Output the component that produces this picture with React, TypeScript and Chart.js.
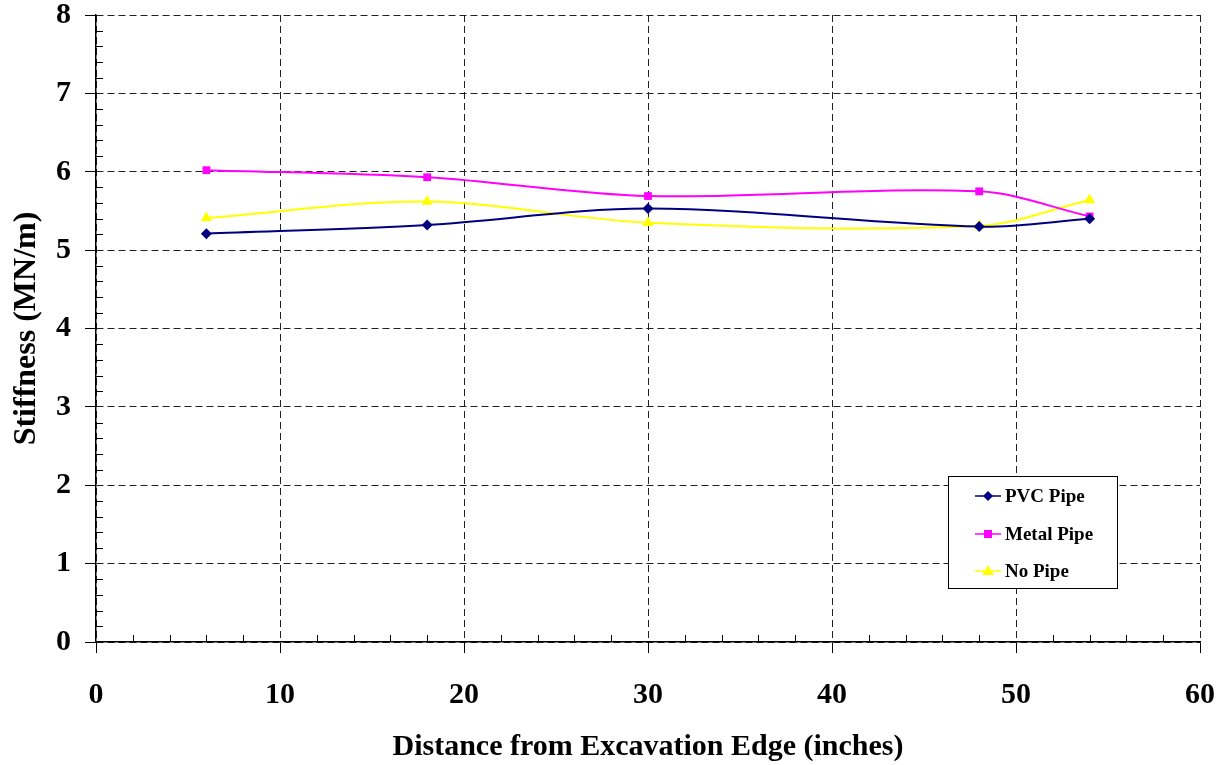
import React, { useEffect, useRef } from "react";
import { Chart, registerables } from "chart.js";

Chart.register(...registerables);

const distances = [6, 18, 30, 48, 54];
const pvcPipe = [5.21, 5.32, 5.53, 5.3, 5.4];
const metalPipe = [6.02, 5.93, 5.69, 5.75, 5.43];
const noPipe = [5.41, 5.62, 5.35, 5.31, 5.64];
const seriesNames = ["PVC Pipe", "Metal Pipe", "No Pipe"];
const xTitle = "Distance from Excavation Edge (inches)";
const yTitle = "Stiffness (MN/m)";

const FONT = "'Liberation Serif', 'Times New Roman', serif";

const colors = ["#000080", "#FF00FF", "#FFFF00"];
const markers = ["rectRot", "rect", "triangle"];
const radii = [5.5, 5.5, 6.5];

export default function App() {
  const ref = useRef<HTMLCanvasElement>(null);
  useEffect(() => {
    document.body.style.margin = "0";
    const canvas = ref.current!;
    const series = [pvcPipe, metalPipe, noPipe];

    const extras = {
      id: "extras",
      afterDraw(chart: any) {
        const ctx = chart.ctx;
        const xs = chart.scales.x;
        const ys = chart.scales.y;
        const area = chart.chartArea;
        ctx.save();
        ctx.strokeStyle = "#000";
        ctx.lineWidth = 1;
        ctx.beginPath();
        for (let v = 2; v < 60; v += 2) {
          if (v % 10 === 0) continue;
          const px = Math.round(xs.getPixelForValue(v)) + 0.5;
          ctx.moveTo(px, area.bottom);
          ctx.lineTo(px, area.bottom - 7);
        }
        for (let i = 1; i < 40; i++) {
          if (i % 5 === 0) continue;
          const py = Math.round(ys.getPixelForValue(i * 0.2)) + 0.5;
          ctx.moveTo(area.left, py);
          ctx.lineTo(area.left + 7, py);
        }
        ctx.stroke();

        // legend
        const lx = 948, ly = 476, lw = 169, lh = 112;
        ctx.fillStyle = "#fff";
        ctx.fillRect(lx, ly, lw, lh);
        ctx.strokeStyle = "#000";
        ctx.strokeRect(lx + 0.5, ly + 0.5, lw, lh);
        const rows = [496, 534, 571];
        ctx.font = `bold 19px ${FONT}`;
        ctx.textBaseline = "middle";
        for (let i = 0; i < 3; i++) {
          const y = rows[i];
          ctx.strokeStyle = colors[i];
          ctx.lineWidth = 1.5;
          ctx.beginPath();
          ctx.moveTo(975, y);
          ctx.lineTo(1001, y);
          ctx.stroke();
          ctx.fillStyle = colors[i];
          ctx.beginPath();
          if (i === 0) {
            ctx.moveTo(988, y - 5);
            ctx.lineTo(993, y);
            ctx.lineTo(988, y + 5);
            ctx.lineTo(983, y);
            ctx.closePath();
          } else if (i === 1) {
            ctx.rect(984, y - 4, 8, 8);
          } else {
            ctx.moveTo(988, y - 6);
            ctx.lineTo(994, y + 4);
            ctx.lineTo(982, y + 4);
            ctx.closePath();
          }
          ctx.fill();
          ctx.fillStyle = "#000";
          ctx.fillText(seriesNames[i], 1005, y + 1);
        }
        ctx.restore();
      },
    };

    const chart = new Chart(canvas, {
      type: "line",
      data: {
        datasets: series.map((s, i) => ({
          label: seriesNames[i],
          data: distances.map((d, j) => ({ x: d, y: s[j] })),
          borderColor: colors[i],
          backgroundColor: colors[i],
          borderWidth: 2,
          pointStyle: markers[i] as any,
          pointRadius: radii[i],
          pointBorderWidth: 0,
          tension: 0.33,
          cubicInterpolationMode: "default",
          fill: false,
        })),
      },
      options: {
        animation: false,
        responsive: false,
        events: [],
        layout: { padding: { left: 0, right: 28, top: 15, bottom: 0 } },
        plugins: { legend: { display: false }, tooltip: { enabled: false } },
        scales: {
          x: {
            type: "linear",
            min: 0,
            max: 60,
            afterFit: (s: any) => {
              s.height = 123;
              s.paddingLeft = 0;
              s.paddingRight = 0;
            },
            ticks: {
              stepSize: 10,
              color: "#000",
              padding: 24,
              font: { family: FONT, size: 30, weight: "bold" },
              maxRotation: 0,
            },
            grid: {
              color: "#222",
              lineWidth: 1,
              tickLength: 11,
              tickColor: "#000",
              tickBorderDash: [],
            } as any,
            border: { display: true, color: "#000", width: 1.5, dash: [7, 4] } as any,
            title: {
              display: true,
              text: xTitle,
              color: "#000",
              font: { family: FONT, size: 30, weight: "bold" },
              padding: { top: 0, bottom: 0 },
            },
          },
          y: {
            type: "linear",
            min: 0,
            max: 8,
            afterFit: (s: any) => {
              s.width = 96;
              s.paddingTop = 0;
              s.paddingBottom = 0;
            },
            ticks: {
              stepSize: 1,
              color: "#000",
              padding: 14,
              font: { family: FONT, size: 30, weight: "bold" },
            },
            grid: {
              color: "#222",
              lineWidth: 1,
              tickLength: 11,
              tickColor: "#000",
              tickBorderDash: [],
            } as any,
            border: { display: true, color: "#000", width: 1.5, dash: [7, 4] } as any,
            title: {
              display: true,
              text: yTitle,
              color: "#000",
              font: { family: FONT, size: 32, weight: "bold" },
              padding: { top: 8, bottom: 0 },
            },
          },
        },
      },
      plugins: [extras],
    });
    return () => chart.destroy();
  }, []);
  return (
    <canvas ref={ref} width={1228} height={765} style={{ display: "block", width: 1228, height: 765 }} />
  );
}
